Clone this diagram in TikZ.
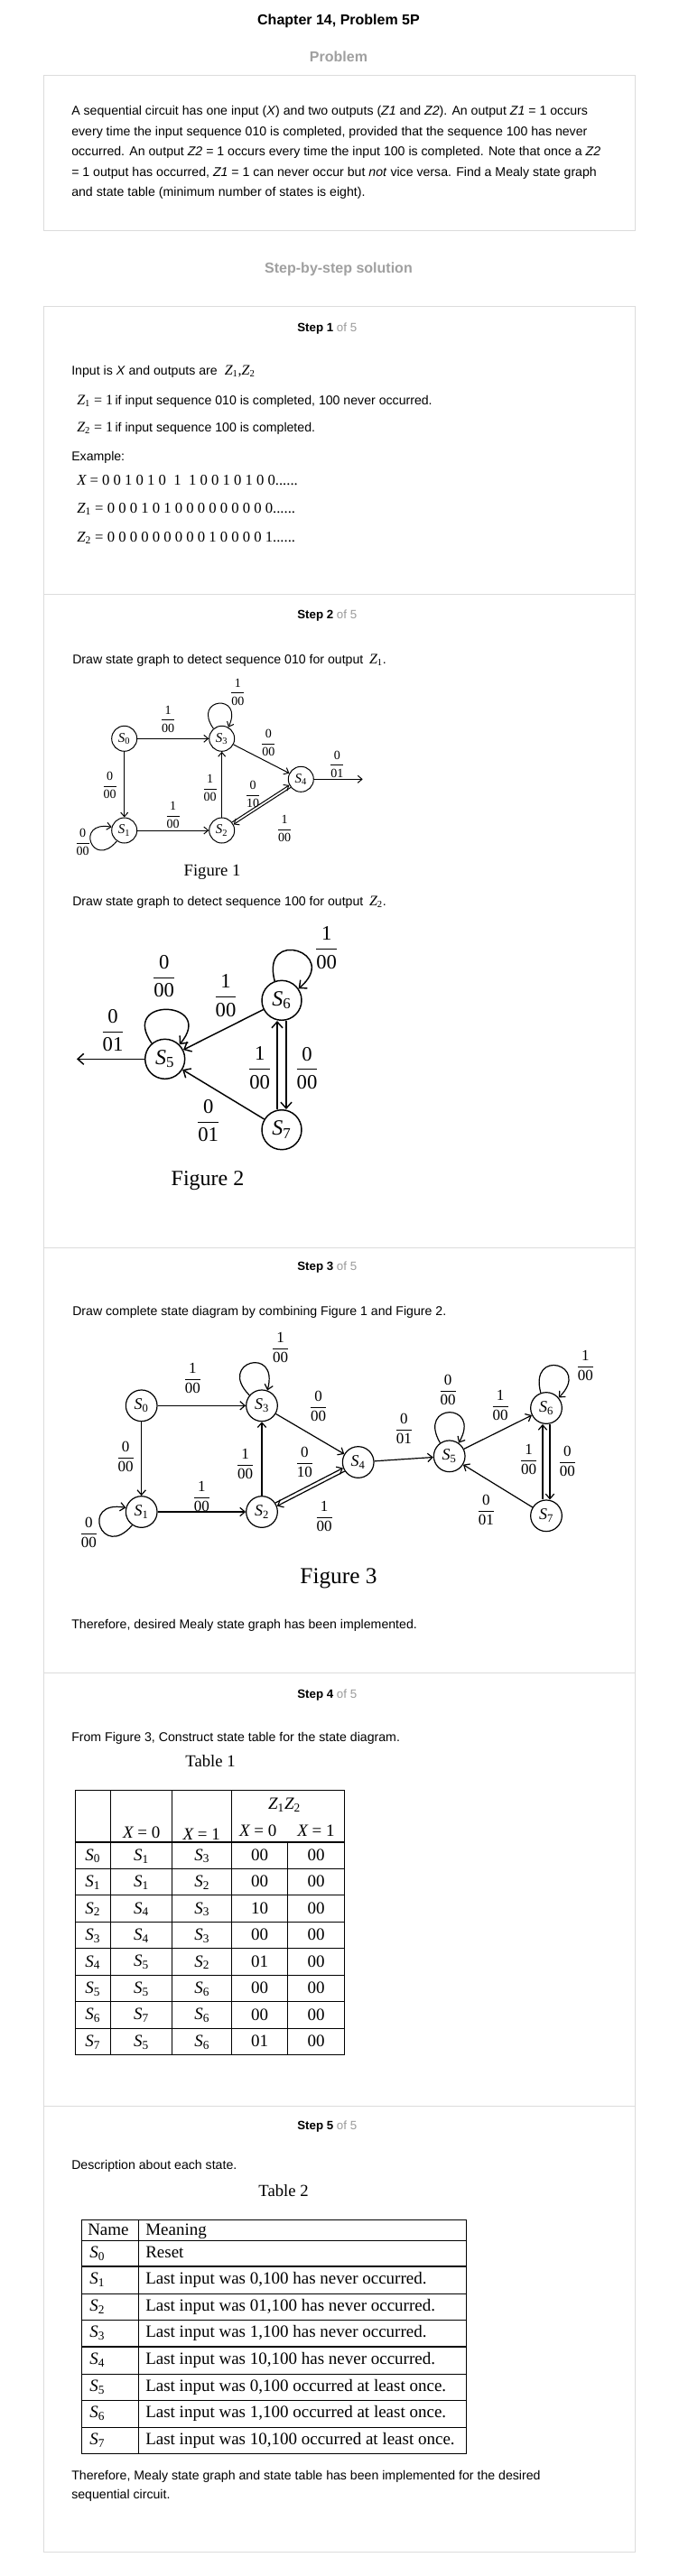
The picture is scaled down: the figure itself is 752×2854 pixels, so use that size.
\documentclass[tikz,border=0pt]{standalone}
\usepackage{fontspec}
\usepackage{amsmath}
\setmainfont{Liberation Sans}
\newfontfamily\tms{Liberation Serif}
\usetikzlibrary{arrows.meta,calc}
\definecolor{boxgray}{HTML}{DCDCDC}
\definecolor{headgray}{HTML}{A0A0A0}
\definecolor{ofgray}{HTML}{9A9A9A}
\newcommand\fsz[1]{\fontsize{#1}{#1}\selectfont}
\newcommand\Sub[2]{{\tms\itshape #1}\textsubscript{\tms\upshape #2}}
\newcommand\fr[2]{$\dfrac{\text{#1}}{\text{#2}}$}
\tikzset{
  body/.style={font=\fsz{10.6}, anchor=base west, inner sep=0},
  mathline/.style={font=\tms\fsz{12.5}, anchor=base west, inner sep=0},
  stephead/.style={font=\fsz{10}, anchor=base west, inner sep=0},
  bighead/.style={font=\bfseries\fsz{12}, anchor=base, inner sep=0},
  st1/.style={circle, draw, line width=0.75pt, minimum size=21pt, inner sep=0, font=\tms\fsz{11.25}},
  st2/.style={circle, draw, line width=1.1pt, minimum size=33pt, inner sep=0, font=\tms\fsz{18}},
  st3/.style={circle, draw, line width=0.9pt, minimum size=26pt, inner sep=0, font=\tms\fsz{13.5}},
  e1/.style={line width=0.75pt, -{Straight Barb[length=3.5pt,width=6pt]}},
  e2/.style={line width=1.1pt, -{Straight Barb[length=5pt,width=9pt]}},
  e3/.style={line width=0.9pt, -{Straight Barb[length=4pt,width=7pt]}},
  lab1/.style={font=\tms\fsz{10.5}, inner sep=0},
  lab2/.style={font=\tms\fsz{17}, inner sep=0},
  lab3/.style={font=\tms\fsz{12.75}, inner sep=0},
  cap/.style={font=\tms\fsz{#1}, inner sep=0},
  cell/.style={font=\tms\fsz{14.25}, inner sep=0},
  tline/.style={line width=0.8pt},
  frame/.style={draw=boxgray, line width=0.75pt},
}
\begin{document}
\begin{tikzpicture}[x=0.75pt,y=0.75pt]
\useasboundingbox (0,0) rectangle (752,-2854);
\fill[white] (0,0) rectangle (752,-2854);

% header
\node[bighead] (title) at (375,-27.7) {Chapter 14, Problem 5P};
\node[bighead, text=headgray] (probhead) at (375,-68.7) {Problem};
\draw[frame] (48,-84) rectangle (703,-256);
\node[body] (p1) at (79,-128) {A sequential circuit has one input (\textit{X}) and two outputs (\textit{Z1} and \textit{Z2}). An output \textit{Z1} = 1 occurs};
\node[body] (p2) at (79,-150.5) {every time the input sequence 010 is completed, provided that the sequence 100 has never};
\node[body] (p3) at (79,-173) {occurred. An output \textit{Z2} = 1 occurs every time the input 100 is completed. Note that once a \textit{Z2}};
\node[body] (p4) at (79,-195.5) {= 1 output has occurred, \textit{Z1} = 1 can never occur but \textit{not} vice versa. Find a Mealy state graph};
\node[body] (p5) at (79,-218) {and state table (minimum number of states is eight).};

\node[bighead, text=headgray] (solhead) at (375,-302.7) {Step-by-step solution};

% solution frame
\draw[frame] (48,-339) rectangle (703,-2827);
\foreach \yy in {658,1382,1853,2333} \draw[frame] (48,-\yy) -- (703,-\yy);

% step 1
\node[stephead] (h1) at (329,-367) {\textbf{Step 1} \textcolor{ofgray}{of 5}};
\node[body] (s1a) at (79,-415) {Input is \textit{X} and outputs are\hspace{6pt}{\fsz{12}\Sub{Z}{1}{\tms ,}\Sub{Z}{2}}};
\node[body] (s1b) at (85,-448) {{\fsz{12}\Sub{Z}{1}{\tms\ = 1}}\,if input sequence 010 is completed, 100 never occurred.};
\node[body] (s1c) at (85,-478) {{\fsz{12}\Sub{Z}{2}{\tms\ = 1}}\,if input sequence 100 is completed.};
\node[body] (s1d) at (79,-510) {Example:};
\node[mathline] (s1e) at (85,-537) {{\itshape X} = 0 0 1 0 1 0 \ 1 \ 1 0 0 1 0 1 0 0......};
\node[mathline] (s1f) at (85,-568) {\Sub{Z}{1} = 0 0 0 1 0 1 0 0 0 0 0 0 0 0 0......};
\node[mathline] (s1g) at (85,-600) {\Sub{Z}{2} = 0 0 0 0 0 0 0 0 0 1 0 0 0 0 1......};

% step 2
\node[stephead] (h2) at (329,-685) {\textbf{Step 2} \textcolor{ofgray}{of 5}};
\node[body] (s2a) at (80,-735) {Draw state graph to detect sequence 010 for output\hspace{5pt}{\fsz{12}\Sub{Z}{1}}.};

% figure 1
\node[st1] (a0) at (137.7,-818.3) {\Sub{S}{0}};
\node[st1] (a3) at (245.7,-818.3) {\Sub{S}{3}};
\node[st1] (a4) at (333.3,-863.3) {\Sub{S}{4}};
\node[st1] (a1) at (137.7,-920) {\Sub{S}{1}};
\node[st1] (a2) at (245.7,-920) {\Sub{S}{2}};
\coordinate (aout) at (401.7,-863.3);
\draw[e1] (a0) -- (a3);
\draw[e1] (a0) -- (a1);
\draw[e1] (a1) -- (a2);
\draw[e1] (a2) -- (a3);
\draw[e1] (a3) -- (a4);
\draw[e1, transform canvas={shift={(-0.61pt,0.95pt)}}] (a2) -- (a4);
\draw[e1, transform canvas={shift={(0.61pt,-0.95pt)}}] (a4) -- (a2);
\draw[e1] (a4) -- (aout);
\draw[e1] (a3.130) .. controls +(125:42) and +(65:42) .. (a3.60);
\draw[e1] (a1.235) .. controls +(230:42) and +(170:42) .. (a1.165);
\node[lab1] (la1) at (186,-796.7) {\fr{1}{00}};
\node[lab1] (la2) at (121.7,-870) {\fr{0}{00}};
\node[lab1] (la3) at (91.7,-933) {\fr{0}{00}};
\node[lab1] (la4) at (191.7,-903) {\fr{1}{00}};
\node[lab1] (la5) at (232.7,-873) {\fr{1}{00}};
\node[lab1] (la6) at (263.3,-766.7) {\fr{1}{00}};
\node[lab1] (la7) at (297.3,-823.3) {\fr{0}{00}};
\node[lab1] (la8) at (280,-880) {\fr{0}{10}};
\node[lab1] (la9) at (315,-918.3) {\fr{1}{00}};
\node[lab1] (la10) at (373.3,-846.7) {\fr{0}{01}};
\node[cap=14] (cap1) at (235,-966.7) {Figure 1};

\node[body] (s2b) at (80,-1003) {Draw state graph to detect sequence 100 for output\hspace{5pt}{\fsz{12}\Sub{Z}{2}}.};

% figure 2
\node[st2] (b6) at (312,-1108.3) {\Sub{S}{6}};
\node[st2] (b5) at (182.7,-1173.3) {\Sub{S}{5}};
\node[st2] (b7) at (312,-1251.7) {\Sub{S}{7}};
\coordinate (bout) at (85,-1173.3);
\draw[e2] (b6) -- (b5);
\draw[e2] (b7) -- (b5);
\draw[e2] (b5) -- (bout);
\draw[e2, transform canvas={shift={(-3.75pt,0pt)}}] (b7) -- (b6);
\draw[e2, transform canvas={shift={(3.75pt,0pt)}}] (b6) -- (b7);
\draw[e2] (b5.130) .. controls +(125:64) and +(50:64) .. (b5.45);
\draw[e2] (b6.110) .. controls +(105:62) and +(40:62) .. (b6.35);
\node[lab2] (lb1) at (181.7,-1081.7) {\fr{0}{00}};
\node[lab2] (lb2) at (361.7,-1050) {\fr{1}{00}};
\node[lab2] (lb3) at (250,-1103.3) {\fr{1}{00}};
\node[lab2] (lb4) at (125,-1141.7) {\fr{0}{01}};
\node[lab2] (lb5) at (230.7,-1241.7) {\fr{0}{01}};
\node[lab2] (lb6) at (287.7,-1183.3) {\fr{1}{00}};
\node[lab2] (lb7) at (340,-1183.3) {\fr{0}{00}};
\node[cap=18] (cap2) at (230,-1308.3) {Figure 2};

% step 3
\node[stephead] (h3) at (329,-1407) {\textbf{Step 3} \textcolor{ofgray}{of 5}};
\node[body] (s3a) at (80,-1457) {Draw complete state diagram by combining Figure 1 and Figure 2.};

% figure 3
\node[st3] (c0) at (156.7,-1557.3) {\Sub{S}{0}};
\node[st3] (c3) at (290,-1557.3) {\Sub{S}{3}};
\node[st3] (c4) at (396.7,-1620) {\Sub{S}{4}};
\node[st3] (c1) at (156.7,-1675) {\Sub{S}{1}};
\node[st3] (c2) at (290,-1675) {\Sub{S}{2}};
\node[st3] (c5) at (497.7,-1613.3) {\Sub{S}{5}};
\node[st3] (c6) at (605,-1560) {\Sub{S}{6}};
\node[st3] (c7) at (605,-1679.3) {\Sub{S}{7}};
\draw[e3] (c0) -- (c3);
\draw[e3] (c0) -- (c1);
\draw[e3] (c1) -- (c2);
\draw[e3] (c2) -- (c3);
\draw[e3] (c3) -- (c4);
\draw[e3, transform canvas={shift={(-0.69pt,1.33pt)}}] (c2) -- (c4);
\draw[e3, transform canvas={shift={(0.69pt,-1.33pt)}}] (c4) -- (c2);
\draw[e3] (c4) -- (c5);
\draw[e3] (c5) -- (c6);
\draw[e3] (c7) -- (c5);
\draw[e3, transform canvas={shift={(-3pt,0pt)}}] (c7) -- (c6);
\draw[e3, transform canvas={shift={(3pt,0pt)}}] (c6) -- (c7);
\draw[e3] (c3.140) .. controls +(135:52) and +(75:52) .. (c3.70);
\draw[e3] (c1.235) .. controls +(230:52) and +(170:52) .. (c1.165);
\draw[e3] (c5.125) .. controls +(120:52) and +(60:52) .. (c5.55);
\draw[e3] (c6.110) .. controls +(105:52) and +(45:52) .. (c6.40);
\node[lab3] (lc1) at (213.3,-1526.7) {\fr{1}{00}};
\node[lab3] (lc2) at (310.7,-1493.3) {\fr{1}{00}};
\node[lab3] (lc3) at (352.7,-1558.3) {\fr{0}{00}};
\node[lab3] (lc4) at (139,-1614) {\fr{0}{00}};
\node[lab3] (lc5) at (271.7,-1621.7) {\fr{1}{00}};
\node[lab3] (lc6) at (337.3,-1620) {\fr{0}{10}};
\node[lab3] (lc7) at (359,-1680) {\fr{1}{00}};
\node[lab3] (lc8) at (223.3,-1658.3) {\fr{1}{00}};
\node[lab3] (lc9) at (98.3,-1698.3) {\fr{0}{00}};
\node[lab3] (lc10) at (447.3,-1583.3) {\fr{0}{01}};
\node[lab3] (lc11) at (496,-1540) {\fr{0}{00}};
\node[lab3] (lc12) at (554,-1556.7) {\fr{1}{00}};
\node[lab3] (lc13) at (648.3,-1512.7) {\fr{1}{00}};
\node[lab3] (lc14) at (585.7,-1616.7) {\fr{1}{00}};
\node[lab3] (lc15) at (628.3,-1619.3) {\fr{0}{00}};
\node[lab3] (lc16) at (538.3,-1672.7) {\fr{0}{01}};
\node[cap=19] (cap3) at (375,-1749.3) {Figure 3};
\node[body] (s3b) at (79,-1804) {Therefore, desired Mealy state graph has been implemented.};

% step 4
\node[stephead] (h4) at (329,-1881) {\textbf{Step 4} \textcolor{ofgray}{of 5}};
\node[body] (s4a) at (79,-1929) {From Figure 3, Construct state table for the state diagram.};
\node[cap=14] (tcap1) at (233,-1951) {Table 1};

% table 1
\draw[tline] (83.3,-1983.3) rectangle (381.7,-2276.7);
\foreach \xx in {122.3,190.7,256.7} \draw[tline] (\xx,-1983.3) -- (\xx,-2276.7);
\draw[tline] (318.3,-2041) -- (318.3,-2276.7);
\foreach \k in {0,...,7} \draw[tline] (83.3,{-2041-29.46*\k}) -- (381.7,{-2041-29.46*\k});
\node[cell] (th1) at (315,-2000) {\Sub{Z}{1}\Sub{Z}{2}};
\node[cell] (th2) at (156.7,-2030) {{\itshape X} = 0};
\node[cell] (th3) at (223.3,-2032.7) {{\itshape X} = 1};
\node[cell] (th4) at (285.7,-2028.3) {{\itshape X} = 0};
\node[cell] (th5) at (350,-2028.3) {{\itshape X} = 1};
\foreach \a/\b/\c/\d/\e [count=\i from 0] in {0/1/3/00/00,1/1/2/00/00,2/4/3/10/00,3/4/3/00/00,4/5/2/01/00,5/5/6/00/00,6/7/6/00/00,7/5/6/01/00}{
  \node[cell] (r\i a) at (102.8,{-2056.3-29.46*\i}) {\Sub{S}{\a}};
  \node[cell] (r\i b) at (156.5,{-2056.3-29.46*\i}) {\Sub{S}{\b}};
  \node[cell] (r\i c) at (223.7,{-2056.3-29.46*\i}) {\Sub{S}{\c}};
  \node[cell] (r\i d) at (287.5,{-2055-29.46*\i}) {\d};
  \node[cell] (r\i e) at (350,{-2055-29.46*\i}) {\e};
}

% step 5
\node[stephead] (h5) at (329,-2359) {\textbf{Step 5} \textcolor{ofgray}{of 5}};
\node[body] (s5a) at (79,-2403) {Description about each state.};
\node[cap=14] (tcap2) at (314,-2427) {Table 2};

% table 2
\draw[tline] (90.2,-2459.3) rectangle (516.5,-2718.3);
\draw[tline] (153.5,-2459.3) -- (153.5,-2718.3);
\foreach \yy in {2482.7,2511,2541.7,2570.7,2600,2630.7,2659.3,2689.3} \draw[tline] (90.2,-\yy) -- (516.5,-\yy);
\node[cell, anchor=base west] (n0) at (97,-2476) {Name};
\node[cell, anchor=base west] (m0) at (161,-2476) {Meaning};
\foreach \yc/\s/\txt [count=\i] in {
  2496.8/0/{Reset},
  2526.3/1/{Last input was 0,100 has never occurred.},
  2556.2/2/{Last input was 01,100 has never occurred.},
  2585.3/3/{Last input was 1,100 has never occurred.},
  2615.3/4/{Last input was 10,100 has never occurred.},
  2645/5/{Last input was 0,100 occurred at least once.},
  2674.3/6/{Last input was 1,100 occurred at least once.},
  2703.8/7/{Last input was 10,100 occurred at least once.}}{
  \node[cell, anchor=base west] (n\i) at (99,-\yc-4.5) {\Sub{S}{\s}};
  \node[cell, anchor=base west] (m\i) at (161,-\yc-4.5) {\txt};
}
\node[body] (s5b) at (79,-2747) {Therefore, Mealy state graph and state table has been implemented for the desired};
\node[body] (s5c) at (79,-2768) {sequential circuit.};
\end{tikzpicture}
\end{document}
